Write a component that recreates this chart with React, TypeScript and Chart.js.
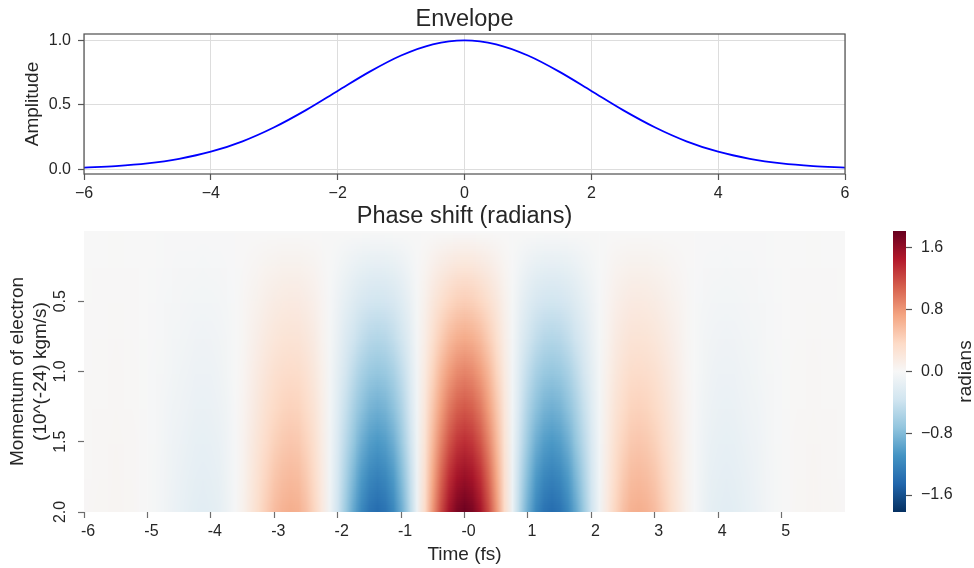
import React, { useEffect, useRef } from 'react';
import { Chart, registerables } from 'chart.js';

Chart.register(...registerables);

// ---------------- data ----------------
// Envelope (top panel)
const envPhase = [-6, -5.5, -5, -4.5, -4, -3.5, -3, -2.5, -2, -1.5, -1, -0.5, 0, 0.5, 1, 1.5, 2, 2.5, 3, 3.5, 4, 4.5, 5, 5.5, 6];
const envAmplitude = [0.011, 0.023, 0.044, 0.08, 0.135, 0.216, 0.325, 0.458, 0.607, 0.755, 0.882, 0.969, 1.0, 0.969, 0.882, 0.755, 0.607, 0.458, 0.325, 0.216, 0.135, 0.08, 0.044, 0.023, 0.011];
const topXTicks = [-6, -4, -2, 0, 2, 4, 6];
const topYTicks = [0, 0.5, 1.0];

// Heatmap (bottom panel): time grid (fs) and phase (radians) at the largest momentum
const timeGrid = [
  -6, -5.875, -5.75, -5.625, -5.5, -5.375, -5.25, -5.125, -5, -4.875, -4.75, -4.625, -4.5, -4.375, -4.25, -4.125,
  -4, -3.875, -3.75, -3.625, -3.5, -3.375, -3.25, -3.125, -3, -2.875, -2.75, -2.625, -2.5, -2.375, -2.25, -2.125,
  -2, -1.875, -1.75, -1.625, -1.5, -1.375, -1.25, -1.125, -1, -0.875, -0.75, -0.625, -0.5, -0.375, -0.25, -0.125,
  0, 0.125, 0.25, 0.375, 0.5, 0.625, 0.75, 0.875, 1, 1.125, 1.25, 1.375, 1.5, 1.625, 1.75, 1.875,
  2, 2.125, 2.25, 2.375, 2.5, 2.625, 2.75, 2.875, 3, 3.125, 3.25, 3.375, 3.5, 3.625, 3.75, 3.875,
  4, 4.125, 4.25, 4.375, 4.5, 4.625, 4.75, 4.875, 5, 5.125, 5.25, 5.375, 5.5, 5.625, 5.75, 5.875, 6
];
const phaseAtMaxMomentum = [
  0.01, 0.02, 0.03, 0.03, 0.04, 0.03, 0.03, 0.01, -0.01, -0.03, -0.06, -0.1, -0.13, -0.16, -0.19, -0.2,
  -0.19, -0.16, -0.1, -0.02, 0.08, 0.2, 0.33, 0.46, 0.57, 0.64, 0.67, 0.65, 0.55, 0.4, 0.19, -0.08,
  -0.37, -0.68, -0.96, -1.19, -1.35, -1.41, -1.35, -1.19, -0.91, -0.54, -0.11, 0.35, 0.81, 1.21, 1.53, 1.73,
  1.8, 1.73, 1.53, 1.21, 0.81, 0.35, -0.11, -0.54, -0.91, -1.19, -1.35, -1.41, -1.35, -1.19, -0.96, -0.68,
  -0.37, -0.08, 0.19, 0.4, 0.55, 0.65, 0.67, 0.64, 0.57, 0.46, 0.33, 0.2, 0.08, -0.02, -0.1, -0.16,
  -0.19, -0.2, -0.19, -0.16, -0.13, -0.1, -0.06, -0.03, -0.01, 0.01, 0.03, 0.03, 0.04, 0.03, 0.03, 0.02, 0.01
];
// momentum rows (10^-24 kg m/s) and the fraction of the max-momentum phase seen in each row
const momentumGrid = [0, 0.25, 0.5, 0.75, 1.0, 1.25, 1.5, 1.75, 2.0];
const momentumFraction = [0, 0.125, 0.25, 0.375, 0.5, 0.625, 0.75, 0.875, 1.0];

const heatXTicks = [-6, -5, -4, -3, -2, -1, 0, 1, 2, 3, 4, 5];
const heatXLabels = ['-6', '-5', '-4', '-3', '-2', '-1', '-0', '1', '2', '3', '4', '5'];
const heatYTicks = [0.5, 1.0, 1.5, 2.0];
const heatYLabels = ['0.5', '1.0', '1.5', '2.0'];

// colour bar
const colorMin = -1.82;
const colorMax = 1.82;
const colorbarTicks = [-1.6, -0.8, 0, 0.8, 1.6];

// ---------------- style ----------------
const FONT = '"Liberation Sans", Arial, Helvetica, sans-serif';
const TEXT = '#262626';
const SPINE = '#555555';
const GRID = '#dddddd';
const W = 974;
const H = 568;
const TITLE_SIZE = 23.5;
const LABEL_SIZE = 19;
const TICK_SIZE = 16;

Chart.defaults.font.family = FONT;
Chart.defaults.color = TEXT;

const RDBU_R = [
  [5, 48, 97], [33, 102, 172], [67, 147, 195], [146, 197, 222], [209, 229, 240], [247, 247, 247],
  [253, 219, 199], [244, 165, 130], [214, 96, 77], [178, 24, 43], [103, 0, 31]
];

function rdbu(v: number): number[] {
  let t = (v - colorMin) / (colorMax - colorMin);
  t = Math.max(0, Math.min(1, t));
  const s = t * (RDBU_R.length - 1);
  const i = Math.min(RDBU_R.length - 2, Math.floor(s));
  const f = s - i;
  const a = RDBU_R[i];
  const b = RDBU_R[i + 1];
  return [a[0] + (b[0] - a[0]) * f, a[1] + (b[1] - a[1]) * f, a[2] + (b[2] - a[2]) * f];
}

const minusFmt = (v: number, d: number) => (v < -1e-9 ? '\u2212' : '') + Math.abs(v).toFixed(d);

const setTicks = (vals: number[]) => (axis: any) => {
  axis.ticks = vals.map((v) => ({ value: v }));
};

// ---------------- plugins ----------------
const framePlugin = {
  id: 'frame',
  afterDatasetsDraw(chart: any) {
    const { ctx, chartArea: a } = chart;
    ctx.save();
    ctx.strokeStyle = SPINE;
    ctx.lineWidth = 1.25;
    ctx.strokeRect(a.left, a.top, a.right - a.left, a.bottom - a.top);
    ctx.restore();
  }
};

const heatmapPlugin = {
  id: 'heatmap',
  beforeDatasetsDraw(chart: any) {
    const { ctx, chartArea: a, scales } = chart;
    const xs = scales.x;
    const ys = scales.y;
    const cols = timeGrid.length;
    const rows = momentumGrid.length;
    const off = document.createElement('canvas');
    off.width = cols;
    off.height = rows;
    const octx = off.getContext('2d')!;
    const img = octx.createImageData(cols, rows);
    for (let r = 0; r < rows; r++) {
      for (let c = 0; c < cols; c++) {
        const col = rdbu(momentumFraction[r] * phaseAtMaxMomentum[c]);
        const k = (r * cols + c) * 4;
        img.data[k] = Math.round(col[0]);
        img.data[k + 1] = Math.round(col[1]);
        img.data[k + 2] = Math.round(col[2]);
        img.data[k + 3] = 255;
      }
    }
    octx.putImageData(img, 0, 0);
    const dt = (timeGrid[1] - timeGrid[0]) / 2;
    const dp = (momentumGrid[1] - momentumGrid[0]) / 2;
    const x0 = xs.getPixelForValue(timeGrid[0] - dt);
    const x1 = xs.getPixelForValue(timeGrid[cols - 1] + dt);
    const y0 = ys.getPixelForValue(momentumGrid[0] - dp);
    const y1 = ys.getPixelForValue(momentumGrid[rows - 1] + dp);
    ctx.save();
    ctx.beginPath();
    ctx.rect(a.left, a.top, a.right - a.left, a.bottom - a.top);
    ctx.clip();
    ctx.imageSmoothingEnabled = true;
    ctx.drawImage(off, Math.min(x0, x1), Math.min(y0, y1), Math.abs(x1 - x0), Math.abs(y1 - y0));
    ctx.restore();
  },
  afterDraw(chart: any) {
    // rotated y tick labels
    const { ctx, scales } = chart;
    const ys = scales.y;
    const cx = ys.right - 6 - 8 - (TICK_SIZE * 1.2) / 2;
    ctx.save();
    ctx.font = `${TICK_SIZE}px ${FONT}`;
    ctx.fillStyle = TEXT;
    ctx.textAlign = 'center';
    ctx.textBaseline = 'middle';
    heatYTicks.forEach((v, i) => {
      const py = ys.getPixelForValue(v);
      ctx.save();
      ctx.translate(cx, py);
      ctx.rotate(-Math.PI / 2);
      ctx.fillText(heatYLabels[i], 0, 0);
      ctx.restore();
    });
    ctx.restore();
  }
};

const colorbarPlugin = {
  id: 'colorbar',
  beforeDatasetsDraw(chart: any) {
    const { ctx, chartArea: a, scales } = chart;
    const ys = scales.y;
    const yLo = ys.getPixelForValue(colorMin);
    const yHi = ys.getPixelForValue(colorMax);
    const g = ctx.createLinearGradient(0, yLo, 0, yHi);
    RDBU_R.forEach((c, i) => g.addColorStop(i / (RDBU_R.length - 1), `rgb(${c[0]},${c[1]},${c[2]})`));
    ctx.save();
    ctx.fillStyle = g;
    ctx.fillRect(a.left, Math.min(yLo, yHi), a.right - a.left, Math.abs(yLo - yHi));
    ctx.restore();
  },
  afterDraw(chart: any) {
    const { ctx, chartArea: a, scales } = chart;
    const ys = scales.y;
    ctx.save();
    ctx.font = `${LABEL_SIZE}px ${FONT}`;
    ctx.fillStyle = TEXT;
    ctx.textAlign = 'center';
    ctx.textBaseline = 'middle';
    ctx.translate(ys.right - 8, (a.top + a.bottom) / 2);
    ctx.rotate(-Math.PI / 2);
    ctx.fillText('radians', 0, 0);
    ctx.restore();
  }
};

// ---------------- configs ----------------
function topConfig(): any {
  return {
    type: 'line',
    data: {
      datasets: [
        {
          data: envPhase.map((x, i) => ({ x, y: envAmplitude[i] })),
          borderColor: '#0000ff',
          borderWidth: 1.8,
          pointRadius: 0,
          fill: false,
          cubicInterpolationMode: 'monotone'
        }
      ]
    },
    options: {
      animation: false,
      responsive: false,
      devicePixelRatio: 1,
      events: [],
      layout: { padding: { left: 0, top: 0, right: 129, bottom: 336 } },
      plugins: {
        legend: { display: false },
        tooltip: { enabled: false },
        title: {
          display: true,
          text: 'Envelope',
          fullSize: false,
          color: TEXT,
          font: { size: TITLE_SIZE, weight: 'normal' },
          padding: { top: 5, bottom: 0.8 }
        }
      },
      scales: {
        x: {
          type: 'linear',
          min: -6,
          max: 6,
          afterBuildTicks: setTicks(topXTicks),
          afterFit: (a: any) => { a.height = 58; },
          grid: { color: GRID, lineWidth: 1, drawTicks: true, tickLength: 6, tickColor: SPINE, tickWidth: 1.2 },
          border: { display: false },
          ticks: { color: TEXT, font: { size: TICK_SIZE }, padding: 4, maxRotation: 0, autoSkip: false, callback: (v: number) => minusFmt(v, 0) },
          title: { display: true, text: 'Phase shift (radians)', color: TEXT, font: { size: TITLE_SIZE }, padding: { top: 0, bottom: 1.4 } }
        },
        y: {
          type: 'linear',
          min: -0.038,
          max: 1.049,
          afterBuildTicks: setTicks(topYTicks),
          afterFit: (a: any) => { a.width = 84; },
          grid: { color: GRID, lineWidth: 1, drawTicks: true, tickLength: 6, tickColor: SPINE, tickWidth: 1.2 },
          border: { display: false },
          ticks: { color: TEXT, font: { size: TICK_SIZE }, padding: 7, callback: (v: number) => minusFmt(v, 1) },
          title: { display: true, text: 'Amplitude', color: TEXT, font: { size: LABEL_SIZE }, padding: { top: 21.6, bottom: 0 } }
        }
      }
    },
    plugins: [framePlugin]
  };
}

function heatConfig(): any {
  const tickGrid = { display: true, drawOnChartArea: false, drawTicks: true, tickLength: 6, tickColor: '#6e6e6e', tickWidth: 1.2 };
  return {
    type: 'scatter',
    data: { datasets: [] },
    options: {
      animation: false,
      responsive: false,
      devicePixelRatio: 1,
      events: [],
      layout: { padding: { left: 0, top: 231, right: 129, bottom: 0 } },
      plugins: { legend: { display: false }, tooltip: { enabled: false }, title: { display: false } },
      scales: {
        x: {
          type: 'linear',
          min: -6,
          max: 6,
          afterBuildTicks: setTicks(heatXTicks),
          afterFit: (a: any) => { a.height = 56; },
          grid: tickGrid,
          border: { display: false },
          ticks: { color: TEXT, font: { size: TICK_SIZE }, padding: 4, labelOffset: 4, maxRotation: 0, autoSkip: false, callback: (_v: number, i: number) => heatXLabels[i] },
          title: { display: true, text: 'Time (fs)', color: TEXT, font: { size: LABEL_SIZE }, padding: { top: 0, bottom: 2.1 } }
        },
        y: {
          type: 'linear',
          min: 0,
          max: 2,
          reverse: true,
          afterBuildTicks: setTicks(heatYTicks),
          afterFit: (a: any) => { a.width = 84; },
          grid: tickGrid,
          border: { display: false },
          ticks: { display: false },
          title: { display: true, text: ['Momentum of electron', '(10^(-24) kgm/s)'], color: TEXT, font: { size: LABEL_SIZE }, padding: { top: 6.6, bottom: 0 } }
        }
      }
    },
    plugins: [heatmapPlugin]
  };
}

function colorbarConfig(): any {
  return {
    type: 'scatter',
    data: { datasets: [] },
    options: {
      animation: false,
      responsive: false,
      devicePixelRatio: 1,
      events: [],
      layout: { padding: { left: 893, top: 231, right: 0, bottom: 56 } },
      plugins: { legend: { display: false }, tooltip: { enabled: false }, title: { display: false } },
      scales: {
        x: { type: 'linear', display: false, min: 0, max: 1 },
        y: {
          type: 'linear',
          position: 'right',
          min: colorMin,
          max: colorMax,
          afterBuildTicks: setTicks(colorbarTicks),
          afterFit: (a: any) => { a.width = 68; },
          grid: { display: true, drawOnChartArea: false, drawTicks: true, tickLength: 6, tickColor: SPINE, tickWidth: 1.2 },
          border: { display: false },
          ticks: { color: TEXT, font: { size: TICK_SIZE }, padding: 9, callback: (v: number) => minusFmt(v, 1) },
          title: { display: false }
        }
      }
    },
    plugins: [colorbarPlugin]
  };
}

export default function App() {
  const topRef = useRef<HTMLCanvasElement>(null);
  const heatRef = useRef<HTMLCanvasElement>(null);
  const cbRef = useRef<HTMLCanvasElement>(null);

  useEffect(() => {
    const charts = [
      new Chart(topRef.current as HTMLCanvasElement, topConfig()),
      new Chart(heatRef.current as HTMLCanvasElement, heatConfig()),
      new Chart(cbRef.current as HTMLCanvasElement, colorbarConfig())
    ];
    return () => charts.forEach((c) => c.destroy());
  }, []);

  const cs: React.CSSProperties = { position: 'absolute', left: 0, top: 0, width: W, height: H };
  return (
    <div style={{ position: 'absolute', left: 0, top: 0, width: W, height: H, background: '#ffffff', overflow: 'hidden' }}>
      <canvas ref={topRef} width={W} height={H} style={cs} />
      <canvas ref={heatRef} width={W} height={H} style={cs} />
      <canvas ref={cbRef} width={W} height={H} style={cs} />
    </div>
  );
}
